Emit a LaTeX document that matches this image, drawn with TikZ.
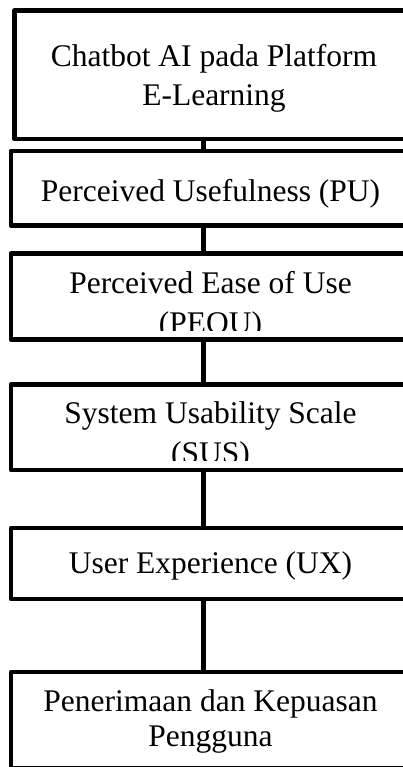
\documentclass[tikz,border=0pt]{standalone}
\usepackage{fontspec}
\setmainfont{Liberation Serif}
\begin{document}
\begin{tikzpicture}[x=1pt,y=-1pt,
  box/.style={draw=black, line width=4.8pt, line join=round, fill=white,
    rectangle, inner sep=0pt, minimum width=399pt},
  lbl/.style={anchor=base, inner sep=0pt, font=\fontsize{31.5}{38}\selectfont},
  link/.style={draw=black, line width=5pt}]
\useasboundingbox (0,0) rectangle (403,767);
\clip (0,0) rectangle (403,767);

% stage boxes (they run past the right and bottom edges of the page)
\node[box, minimum height=128.5pt] (b1) at (214,74.75) {};
\node[box, minimum height=74.5pt]  (b2) at (210.5,188.25) {};
\node[box, minimum height=86pt]    (b3) at (210.5,296.7) {};
\node[box, minimum height=85.5pt]  (b4) at (210.5,427.25) {};
\node[box, minimum height=71pt]    (b5) at (210.5,563.5) {};
\node[box, minimum height=96.5pt]  (b6) at (210.5,720.25) {};

% labels
\node[lbl] (t1a) at (214,66.7) {Chatbot AI pada Platform};
\node[lbl] (t1b) at (214,106) {E-Learning};
\node[lbl] (t2)  at (210.5,201) {Perceived Usefulness (PU)};
\begin{scope}
  \clip (b3.north west) rectangle ([yshift=11.5pt]b3.south east);
  \node[lbl] (t3a) at (210.5,293) {Perceived Ease of Use};
  \node[lbl] (t3b) at (210.5,333) {(PEOU)};
\end{scope}
\begin{scope}
  \clip (b4.north west) rectangle ([yshift=11.5pt]b4.south east);
  \node[lbl] (t4a) at (210.5,423.5) {System Usability Scale};
  \node[lbl] (t4b) at (210.5,463) {(SUS)};
\end{scope}
\node[lbl] (t5)  at (210.5,573) {User Experience (UX)};
\node[lbl] (t6a) at (210.5,711.7) {Penerimaan dan Kepuasan};
\node[lbl] (t6b) at (210.5,746.7) {Pengguna};

% vertical connectors
\coordinate (cx) at (203,0);
\draw[link] (b1.south -| cx) -- (b2.north -| cx);
\draw[link] (b2.south -| cx) -- (b3.north -| cx);
\draw[link] (b3.south -| cx) -- (b4.north -| cx);
\draw[link] (b4.south -| cx) -- (b5.north -| cx);
\draw[link] (b5.south -| cx) -- (b6.north -| cx);
\end{tikzpicture}
\end{document}
